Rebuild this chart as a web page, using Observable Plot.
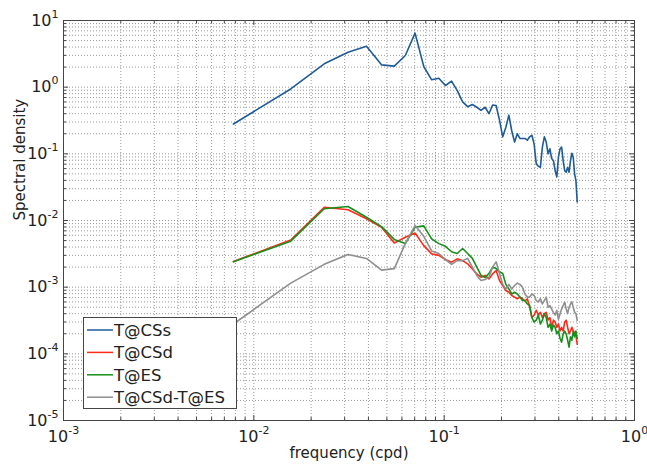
<!DOCTYPE html>
<html><head><meta charset="utf-8">
<script src="https://cdn.jsdelivr.net/npm/d3@7"></script>
<script src="https://cdn.jsdelivr.net/npm/@observablehq/plot@0.6"></script>
<style>
body{margin:0;background:#fff;}
#chart{position:relative;width:647px;height:464px;}
</style></head><body><div id="chart"></div>
<script>
const seriesNames = ["T@CSs", "T@CSd", "T@ES", "T@CSd-T@ES"];
const seriesColors = ["#1f5b98", "#ff2a1a", "#17901a", "#8f8f8f"];
const freq = [0.0078125, 0.015625, 0.0234375, 0.03125, 0.0390625, 0.046875, 0.0546875, 0.0625, 0.0703125, 0.078125,
  0.0859375, 0.09375, 0.1015625, 0.109375, 0.1171875, 0.125, 0.1328125, 0.140625, 0.1484375, 0.15625,
  0.1640625, 0.171875, 0.1796875, 0.1875, 0.1953125, 0.203125, 0.2109375, 0.21875, 0.2265625, 0.234375,
  0.2421875, 0.25, 0.2578125, 0.265625, 0.2734375, 0.28125, 0.2890625, 0.296875, 0.3046875, 0.3125,
  0.3203125, 0.328125, 0.3359375, 0.34375, 0.3515625, 0.359375, 0.3671875, 0.375, 0.3828125, 0.390625,
  0.3984375, 0.40625, 0.4140625, 0.421875, 0.4296875, 0.4375, 0.4453125, 0.453125, 0.4609375, 0.46875,
  0.4765625, 0.484375, 0.4921875, 0.5];
const tCSs = [0.28, 0.94, 2.24, 3.35, 4.12, 2.16, 2.07, 2.99, 6.46, 2.04,
  1.29, 1.36, 1.06, 1.23, 0.89, 0.60, 0.51, 0.55, 0.50, 0.45,
  0.50, 0.40, 0.54, 0.53, 0.32, 0.18, 0.25, 0.38, 0.22, 0.15,
  0.20, 0.17, 0.17, 0.17, 0.16, 0.18, 0.19, 0.14, 0.071, 0.065,
  0.063, 0.126, 0.18, 0.15, 0.10, 0.119, 0.085, 0.079, 0.056, 0.045,
  0.089, 0.119, 0.126, 0.079, 0.056, 0.053, 0.063, 0.053, 0.079, 0.102,
  0.089, 0.050, 0.040, 0.019];
const tCSd = [0.00243, 0.0051, 0.0158, 0.0145, 0.0106, 0.0079, 0.0046, 0.0056, 0.0065, 0.0042,
  0.00316, 0.0030, 0.0026, 0.00237, 0.00266, 0.0025, 0.00224, 0.00188, 0.00158, 0.00141,
  0.0015, 0.00133, 0.00158, 0.00178, 0.00126, 0.00106, 0.00089, 0.00084, 0.00075, 0.00071,
  0.00067, 0.00071, 0.00067, 0.00062, 0.00067, 0.00051, 0.00035, 0.00038, 0.00045, 0.00038,
  0.00042, 0.00035, 0.0004, 0.00042, 0.00032, 0.00035, 0.00025, 0.00032, 0.0003, 0.00025,
  0.00028, 0.00022, 0.00025, 0.00022, 0.0003, 0.00032, 0.00025, 0.0002, 0.00022, 0.00025,
  0.00022, 0.00021, 0.00019, 0.00014];
const tES = [0.0024, 0.0049, 0.015, 0.0162, 0.0112, 0.0081, 0.0052, 0.0045, 0.0079, 0.0083,
  0.0053, 0.0045, 0.0041, 0.0034, 0.0032, 0.0038, 0.0032, 0.0027, 0.002, 0.0015,
  0.0014, 0.0016, 0.002, 0.0019, 0.0017, 0.0016, 0.0011, 0.00094, 0.00079, 0.00084,
  0.00079, 0.00071, 0.00063, 0.00063, 0.00056, 0.00053, 0.00035, 0.0003, 0.00032, 0.00038,
  0.00028, 0.00032, 0.0004, 0.00035, 0.00025, 0.00028, 0.00022, 0.00027, 0.00025, 0.0002,
  0.00022, 0.00017, 0.00015, 0.0002, 0.00022, 0.0002, 0.00016, 0.000126, 0.00018, 0.00016,
  0.00022, 0.00018, 0.00022, 0.00017];
const tDiff = [0.00028, 0.00115, 0.0022, 0.0031, 0.0027, 0.0018, 0.0019, 0.0045, 0.0084, 0.0058,
  0.0035, 0.0032, 0.0026, 0.0022, 0.0025, 0.0025, 0.0027, 0.002, 0.0015, 0.00126,
  0.0013, 0.0014, 0.002, 0.0024, 0.0016, 0.0011, 0.00094, 0.0011, 0.00094, 0.00106,
  0.00115, 0.0011, 0.001, 0.00079, 0.00071, 0.00071, 0.00079, 0.00075, 0.00063, 0.0006,
  0.00067, 0.00056, 0.00063, 0.00071, 0.0005, 0.00053, 0.00047, 0.00042, 0.00038, 0.00045,
  0.00033, 0.0004, 0.00047, 0.00053, 0.0006, 0.00047, 0.0004, 0.0005, 0.00056, 0.0006,
  0.0005, 0.00042, 0.0004, 0.00032];
const xTickExps = [-3, -2, -1, 0];
const yTickExps = [-5, -4, -3, -2, -1, 0, 1];
const xLabel = "frequency (cpd)";
const yLabel = "Spectral density";

const allSeries = [tCSs, tCSd, tES, tDiff];
const rows = allSeries.flatMap((vals, i) => vals.map((v, j) => ({f: freq[j], v, s: seriesNames[i]})));

const xMajor = xTickExps.map(e => 10 ** e);
const yMajor = yTickExps.map(e => 10 ** e);
const xAll = d3.scaleLog().domain([xMajor[0], xMajor[xMajor.length - 1]]).ticks();
const yAll = d3.scaleLog().domain([yMajor[0], yMajor[yMajor.length - 1]]).ticks();
const isMajor = (list) => (d) => list.some(m => Math.abs(m - d) / m < 1e-9);
const xMinor = xAll.filter(d => !isMajor(xMajor)(d));
const yMinor = yAll.filter(d => !isMajor(yMajor)(d));
const fmt = d => "10^" + Math.round(Math.log10(d));

const W = 647, H = 464, mL = 63, mR = 13, mT = 20, mB = 44;
const fw = W - mL - mR, fh = H - mT - mB;
const axisColor = "#454545";
const fontFam = "'DejaVu Sans', Verdana, sans-serif";
const gridStyle = {stroke: "#9a9a9a", strokeOpacity: 1, strokeDasharray: "1,2", strokeWidth: 1};

const svg = Plot.plot({
  width: W, height: H,
  marginLeft: mL, marginRight: mR, marginTop: mT, marginBottom: mB,
  style: {fontFamily: fontFam, fontSize: "15px", background: "white", color: "#222"},
  x: {type: "log", domain: [xMajor[0], xMajor[xMajor.length - 1]]},
  y: {type: "log", domain: [yMajor[0], yMajor[yMajor.length - 1]]},
  color: {domain: seriesNames, range: seriesColors},
  marks: [
    Plot.gridX(xAll, gridStyle),
    Plot.gridY(yAll, gridStyle),
    Plot.line(rows, {x: "f", y: "v", z: "s", stroke: "s", strokeWidth: 1.6, strokeLinejoin: "round"}),
    Plot.tickX(xMajor, {x: d => d, insetTop: fh - 5, stroke: axisColor}),
    Plot.tickX(xMajor, {x: d => d, insetBottom: fh - 5, stroke: axisColor}),
    Plot.tickX(xMinor, {x: d => d, insetTop: fh - 3, stroke: axisColor}),
    Plot.tickX(xMinor, {x: d => d, insetBottom: fh - 3, stroke: axisColor}),
    Plot.tickY(yMajor, {y: d => d, insetRight: fw - 5, stroke: axisColor}),
    Plot.tickY(yMajor, {y: d => d, insetLeft: fw - 5, stroke: axisColor}),
    Plot.tickY(yMinor, {y: d => d, insetRight: fw - 3, stroke: axisColor}),
    Plot.tickY(yMinor, {y: d => d, insetLeft: fw - 3, stroke: axisColor}),
    Plot.frame({stroke: axisColor, strokeWidth: 1}),
    Plot.axisX(xMajor, {tickSize: 0, tickPadding: 10, tickFormat: fmt, fontSize: 16, label: null}),
    Plot.axisY(yMajor, {tickSize: 0, tickPadding: 5, tickFormat: fmt, fontSize: 16, label: null}),
    Plot.text([xLabel], {text: d => d, frameAnchor: "bottom", dy: 37, fontSize: 15, fill: "#222"}),
    Plot.text([yLabel], {text: d => d, frameAnchor: "left", dx: -43, rotate: -90, fontSize: 15, fill: "#222"})
  ]
});

// superscript exponents in tick labels
d3.select(svg).selectAll("text").each(function() {
  const t = this.textContent;
  if (!t.includes("^") || this.querySelector("tspan")) return;
  const [b, e] = t.split("^");
  const sel = d3.select(this);
  sel.text(null);
  sel.append("tspan").text(b);
  sel.append("tspan").attr("dy", -8).attr("font-size", 11).text(e);
});

// legend inside the axes (lower left)
const lg = d3.select(svg).append("g")
  .attr("font-family", fontFam)
  .attr("font-size", 16.5)
  .attr("text-anchor", "start");
lg.append("rect").attr("x", 83.5).attr("y", 317.5).attr("width", 153).attr("height", 91)
  .attr("fill", "white").attr("stroke", axisColor);
seriesNames.forEach((n, i) => {
  const y = 330 + i * 22.4;
  lg.append("line").attr("x1", 87).attr("x2", 113).attr("y1", y).attr("y2", y)
    .attr("stroke", seriesColors[i]).attr("stroke-width", 1.5);
  lg.append("text").attr("x", 114).attr("y", y).attr("dy", "0.36em")
    .attr("text-anchor", "start").attr("fill", "#222").text(n);
});

document.getElementById("chart").appendChild(svg);
</script>
</body></html>
